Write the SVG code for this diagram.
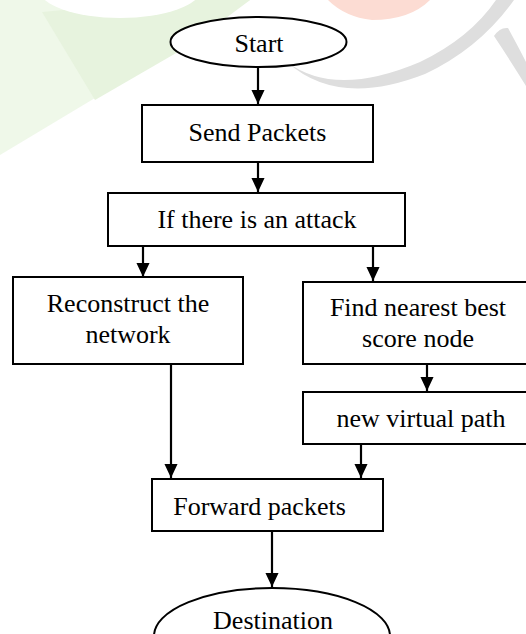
<svg xmlns="http://www.w3.org/2000/svg" width="526" height="634" viewBox="0 0 526 634">
<defs>
<style>
.box{fill:#fff;stroke:#000;stroke-width:2}
.el{fill:#fff;stroke:#000;stroke-width:2}
.t{font-family:"Liberation Serif","Times New Roman",serif;font-size:26px;fill:#000;text-anchor:middle}
.c{stroke:#000;stroke-width:2.2;fill:none;marker-end:url(#ah)}
</style>
<marker id="ah" markerUnits="userSpaceOnUse" markerWidth="14" markerHeight="16" refX="15" refY="7" orient="auto" viewBox="0 0 15 14">
<path d="M0,0 L15,7 L0,14 Z" fill="#000"/>
</marker>
</defs>
<rect width="526" height="634" fill="#fff"/>
<g id="watermark">
<polygon points="0,0 250,0 200,35 0,155" fill="#eff8e9"/>
<polygon points="42,12 170,0 250,0 190,45 95,100" fill="#e7f3de"/>
<ellipse cx="120" cy="-12" rx="82" ry="30" fill="#fff"/>
<path d="M328,0 L430,0 Q410,20 372,20 Q345,17 328,0 Z" fill="#fcdcd3"/>
<path d="M287,62 Q335,98 420,62 Q470,38 496,0 L514,0 Q480,48 425,74 Q338,108 287,62 Z" fill="#dedede"/>
<path d="M494,36 Q500,27 508,28 Q520,50 526,62 L526,86 Q510,60 494,36 Z" fill="#dedede"/>
</g>
<g id="connectors">
<line class="c" x1="258" y1="68" x2="258" y2="104"/>
<line class="c" x1="258" y1="162" x2="258" y2="192"/>
<line class="c" x1="143" y1="246" x2="143" y2="277"/>
<line class="c" x1="373" y1="247" x2="373" y2="281"/>
<line class="c" x1="427" y1="364" x2="427" y2="391"/>
<line class="c" x1="171" y1="364" x2="171" y2="478"/>
<line class="c" x1="361" y1="444" x2="361" y2="478"/>
<line class="c" x1="272" y1="531" x2="272" y2="587"/>
</g>
<g id="start">
<ellipse class="el" cx="258.5" cy="42" rx="88" ry="25"/>
<text class="t" x="259" y="52">Start</text>
</g>
<g id="send">
<rect class="box" x="142" y="105" width="231" height="57"/>
<text class="t" x="257.5" y="141">Send Packets</text>
</g>
<g id="attack">
<rect class="box" x="108" y="193" width="297" height="53"/>
<text class="t" x="257" y="228">If there is an attack</text>
</g>
<g id="reconstruct">
<rect class="box" x="13" y="277" width="230" height="87"/>
<text class="t" x="128" y="312">Reconstruct the</text>
<text class="t" x="128" y="342.5">network</text>
</g>
<g id="find">
<rect class="box" x="303" y="282" width="240" height="82"/>
<text class="t" x="418" y="315.5">Find nearest best</text>
<text class="t" x="418" y="346.5">score node</text>
</g>
<g id="virtual">
<rect class="box" x="303" y="392" width="240" height="52"/>
<text class="t" x="421" y="426.5">new virtual path</text>
</g>
<g id="forward">
<rect class="box" x="152" y="479" width="231" height="52"/>
<text class="t" x="259.5" y="515">Forward packets</text>
</g>
<g id="destination">
<ellipse class="el" cx="272" cy="636" rx="118" ry="48"/>
<text class="t" x="273" y="629">Destination</text>
</g>
</svg>
